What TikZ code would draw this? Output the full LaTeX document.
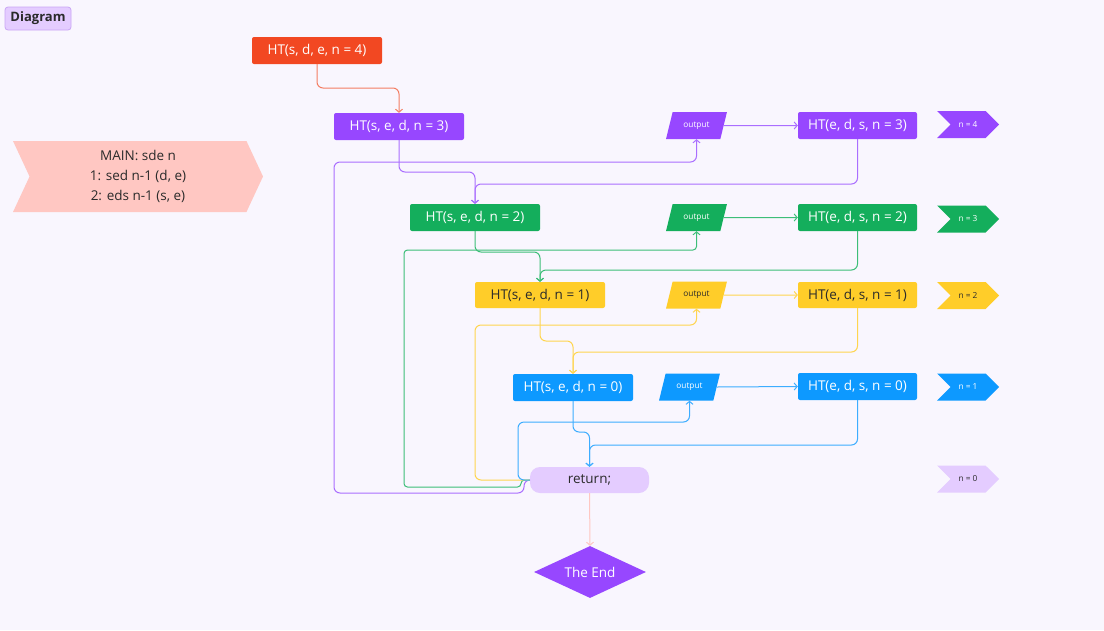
\documentclass[tikz,border=0pt]{standalone}
\usepackage{fontspec}
\setmainfont{Open Sans}
\usetikzlibrary{shapes.geometric,shapes.symbols,arrows.meta,calc}
\definecolor{bg}{HTML}{F9F6FE}
\definecolor{cred}{HTML}{F24822}
\definecolor{cpur}{HTML}{9747FF}
\definecolor{cgrn}{HTML}{14AE5C}
\definecolor{cyel}{HTML}{FFCD29}
\definecolor{cblu}{HTML}{0D99FF}
\definecolor{clil}{HTML}{E4CCFF}
\definecolor{clilb}{HTML}{C9A6F5}
\definecolor{csal}{HTML}{FFC7C2}
\definecolor{lred}{HTML}{F47E63}
\definecolor{lpur}{HTML}{AA6EFF}
\definecolor{lgrn}{HTML}{3DBE78}
\definecolor{lyel}{HTML}{FFD54F}
\definecolor{lblu}{HTML}{3DADFF}
\definecolor{dtext}{HTML}{2A2A2A}
\tikzset{
  box/.style={rectangle, rounded corners=2pt, minimum width=130, minimum height=27, inner sep=0, font=\fontsize{13.5}{15}\selectfont, text=white},
  outp/.style={trapezium, trapezium left angle=64, trapezium right angle=116, trapezium stretches=true, minimum width=61, minimum height=27, inner sep=0, font=\fontsize{8.3}{9}\selectfont, text=white},
  tagbox/.style={signal, signal from=west, signal to=east, signal pointer angle=90, minimum width=62, minimum height=27, inner sep=0, font=\fontsize{8.3}{9}\selectfont, text=white},
  conn/.style={line width=1pt, rounded corners=6pt},
  arr/.style={-{Straight Barb[length=3pt,width=7pt]}},
}
\begin{document}
\begin{tikzpicture}[x=1pt,y=-1pt]
\fill[bg] (0,0) rectangle (1104,630);
\useasboundingbox (0,0) rectangle (1104,630);

% title tag
\node[draw=clilb, fill=clil, rounded corners=3pt, line width=0.8pt, minimum width=66, minimum height=23, inner sep=0, font=\fontsize{13}{14}\selectfont\bfseries, text=dtext] (title) at (38,18.5) {Diagram};

% main tag
\node[signal, signal from=west, signal to=east, signal pointer angle=130, fill=csal, minimum width=250, minimum height=71, inner sep=0, align=center, font=\fontsize{13.5}{20}\selectfont, text=dtext] (main) at (138,176.5) {MAIN: sde n\\1: sed n-1 (d, e)\\2: eds n-1 (s, e)};

% left column boxes
\node[box, fill=cred] (r4) at (317,50.5) {HT(s, d, e, n = 4)};
\node[box, fill=cpur] (pL) at (399,126.5) {HT(s, e, d, n = 3)};
\node[box, fill=cgrn] (gL) at (475,217.5) {HT(s, e, d, n = 2)};
\node[box, fill=cyel, text=dtext, minimum height=26] (yL) at (540,295) {HT(s, e, d, n = 1)};
\node[box, fill=cblu, minimum width=120] (bL) at (573,387.5) {HT(s, e, d, n = 0)};

% right column boxes
\node[box, fill=cpur, minimum width=119] (pR) at (857.5,125.5) {HT(e, d, s, n = 3)};
\node[box, fill=cgrn, minimum width=119] (gR) at (857.5,217.5) {HT(e, d, s, n = 2)};
\node[box, fill=cyel, text=dtext, minimum width=119, minimum height=26] (yR) at (857.5,295) {HT(e, d, s, n = 1)};
\node[box, fill=cblu, minimum width=119] (bR) at (857.5,386.5) {HT(e, d, s, n = 0)};

% outputs
\node[outp, fill=cpur] (po) at (696.5,125.5) {output};
\node[outp, fill=cgrn] (go) at (696.5,217.5) {output};
\node[outp, fill=cyel, text=dtext] (yo) at (696.5,295) {output};
\node[outp, fill=cblu] (bo) at (689.5,387) {output};

% tags
\node[tagbox, fill=cpur] (t4) at (968,124.5) {n = 4};
\node[tagbox, fill=cgrn] (t3) at (968,219) {n = 3};
\node[tagbox, fill=cyel, text=dtext] (t2) at (968,295.5) {n = 2};
\node[tagbox, fill=cblu] (t1) at (968,387) {n = 1};
\node[tagbox, fill=clil, text=dtext] (t0) at (968,479) {n = 0};

% return and end
\node[rectangle, rounded corners=10pt, fill=clil, minimum width=119, minimum height=26, inner sep=0, font=\fontsize{13.5}{15}\selectfont, text=dtext] (ret) at (589.5,480) {return;};
\node[diamond, aspect=2.15, fill=cpur, minimum width=112, minimum height=52, inner sep=0, font=\fontsize{13.5}{15}\selectfont, text=white] (end) at (590,572) {The End};

% red
\draw[conn, lred, arr] (r4.south) -- (r4.south |- 0,88) -| (pL.north);
% purple
\draw[conn, lpur, arr] (pL.south) -- (pL.south |- 0,172) -| (gL.north);
\draw[conn, lpur, arr] (pR.south) -- (pR.south |- 0,184) -| (gL.north);
\draw[conn, lpur, arr] (po.east) -- (pR.west);
\draw[conn, lpur, arr] (ret.west) -- (524,480) -- (524,493) -- (334,493) -- (334,162) -| (po.south);
% green
\draw[conn, lgrn, arr] (gL.south) -- (gL.south |- 0,252) -| (yL.north);
\draw[conn, lgrn, arr] (gR.south) -- (gR.south |- 0,270) -| (yL.north);
\draw[conn, lgrn, arr] (go.east) -- (gR.west);
\draw[conn, rounded corners=3.5pt, lgrn, arr] (ret.west) -- (521,480) -- (521,487) -- (404,487) -- (404,250) -| (go.south);
% yellow
\draw[conn, lyel, arr] (yL.south) -- (yL.south |- 0,341) -| (bL.north);
\draw[conn, lyel, arr] (yR.south) -- (yR.south |- 0,352) -| (bL.north);
\draw[conn, lyel, arr] (yo.east) -- (yR.west);
\draw[conn, lyel, arr] (ret.west) -- (475,480) -- (475,325) -| (yo.south);
% blue
\draw[conn, lblu, arr] (bL.south) -- (bL.south |- 0,432) -| (ret.north);
\draw[conn, lblu, arr] (bR.south) -- (bR.south |- 0,445) -| (ret.north);
\draw[conn, lblu, arr] (bo.east) -- (bR.west);
\draw[conn, lblu, arr] (ret.west) -- (518,480) -- (518,422) -| (bo.south);
% end
\draw[line width=1pt, csal, arr] (ret.south) -- (end.north);
\end{tikzpicture}
\end{document}
